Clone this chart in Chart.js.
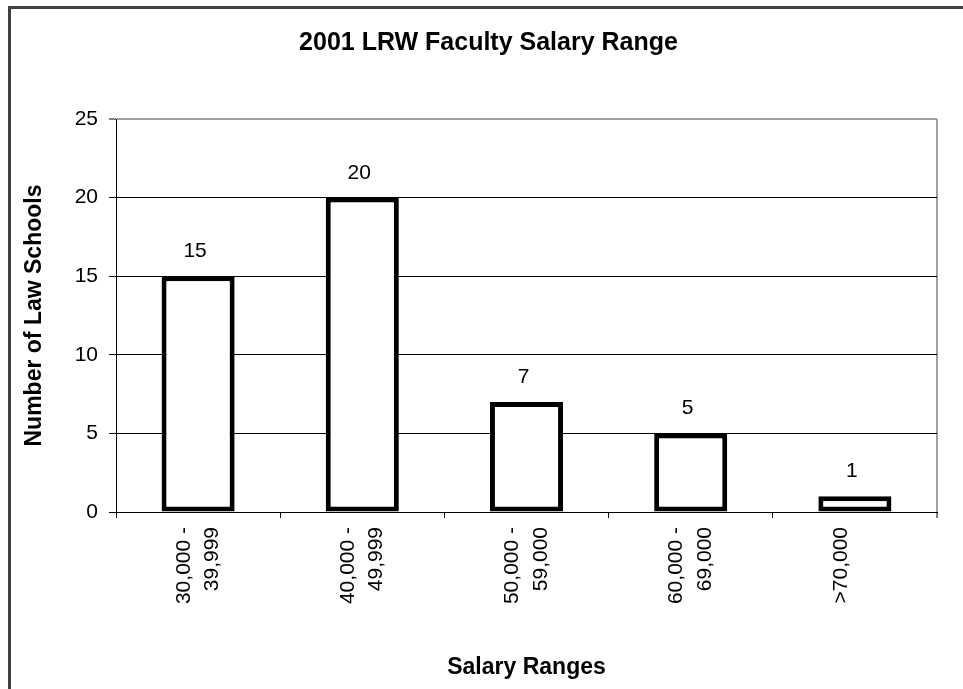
<!DOCTYPE html>
<html>
<head>
<meta charset="utf-8">
<script src="https://cdn.jsdelivr.net/npm/chart.js@4.4.1/dist/chart.umd.min.js"></script>
<style>
  html, body { margin: 0; padding: 0; background: #fff; overflow: hidden; }
  #wrap { position: relative; width: 963px; height: 689px; overflow: hidden; }
  #frame { position: absolute; left: 8px; top: 6px; width: 2000px; height: 2000px;
           border-left: 3px solid #404040; border-top: 3px solid #404040; }
  #salaryChart { position: absolute; left: 0; top: 0; }
</style>
</head>
<body>
<div id="wrap">
  <div id="frame"></div>
  <canvas id="salaryChart" width="963" height="689"></canvas>
</div>
<script>
// date
var salaryRanges = [['30,000 -', '39,999'], ['40,000 -', '49,999'], ['50,000 -', '59,000'], ['60,000 -', '69,000'], '>70,000'];
var schoolCounts = [15, 20, 7, 5, 1];
var yMax = 25;
var yStep = 5;

var fontFamily = '"Liberation Sans", Arial, sans-serif';
Chart.defaults.color = '#000';
Chart.defaults.font.family = fontFamily;

// etichetele cu valori deasupra barelor
var valueLabels = {
    id: 'valueLabels',
    afterDatasetsDraw(chart) {
        var ctx = chart.ctx;
        var meta = chart.getDatasetMeta(0);
        ctx.save();
        ctx.font = '21px ' + fontFamily;
        ctx.fillStyle = '#000';
        ctx.textAlign = 'center';
        ctx.textBaseline = 'alphabetic';
        meta.data.forEach(function (bar, i) {
            ctx.fillText(schoolCounts[i], bar.x - 3, bar.y - 19);
        });
        ctx.restore();
    }
};

var ctx = document.getElementById('salaryChart').getContext('2d');
new Chart(ctx, {
    type: 'bar',
    data: {
        labels: salaryRanges,
        datasets: [{
            label: 'Number of Law Schools',
            data: schoolCounts,
            backgroundColor: '#fff',
            borderColor: '#000',
            borderWidth: 5,
            borderSkipped: false,
            barPercentage: 0.445,
            categoryPercentage: 1
        }]
    },
    options: {
        responsive: false,
        animation: false,
        layout: { padding: { left: 40, right: 26, top: 0, bottom: 0 } },
        plugins: {
            legend: { display: false },
            tooltip: { enabled: false },
            title: {
                display: true,
                text: '2001 LRW Faculty Salary Range',
                color: '#000',
                font: { size: 25, weight: 'bold', lineHeight: 1.2 },
                padding: { top: 28.5, bottom: 60.5 }
            }
        },
        scales: {
            x: {
                grid: {
                    offset: true,
                    drawOnChartArea: true,
                    color: function (c) { return c.type === 'scale' ? '#a0a0a0' : 'rgba(0,0,0,0)'; },
                    lineWidth: function (c) { return c.type === 'scale' ? 2 : 1; },
                    tickColor: '#000',
                    tickWidth: 1,
                    tickLength: 6
                },
                border: { display: true, color: '#000', width: 1 },
                ticks: {
                    autoSkip: false,
                    minRotation: 90,
                    maxRotation: 90,
                    padding: 9,
                    labelOffset: -14,
                    color: '#000',
                    font: { size: 21, lineHeight: 1.35 }
                },
                title: {
                    display: true,
                    text: 'Salary Ranges',
                    color: '#000',
                    font: { size: 23, weight: 'bold', lineHeight: 1.2 },
                    padding: { top: 0, bottom: 7.2 }
                },
                afterFit: function (scale) { scale.height = 177; }
            },
            y: {
                min: 0,
                max: yMax,
                ticks: {
                    stepSize: yStep,
                    padding: 11,
                    color: '#000',
                    font: { size: 21 }
                },
                grid: {
                    color: function (c) { return c.tick && c.tick.value === yMax ? '#a0a0a0' : '#000'; },
                    lineWidth: function (c) { return c.tick && c.tick.value === yMax ? 2 : 1; },
                    tickColor: '#000',
                    tickWidth: 1,
                    tickLength: 7
                },
                border: { display: true, color: '#000', width: 1 },
                title: {
                    display: true,
                    text: 'Number of Law Schools',
                    color: '#000',
                    font: { size: 23, weight: 'bold', lineHeight: 1.2 },
                    padding: { top: -18.8, bottom: 0 }
                },
                afterFit: function (scale) { scale.width = 76; }
            }
        }
    },
    plugins: [valueLabels]
});
</script>
</body>
</html>
